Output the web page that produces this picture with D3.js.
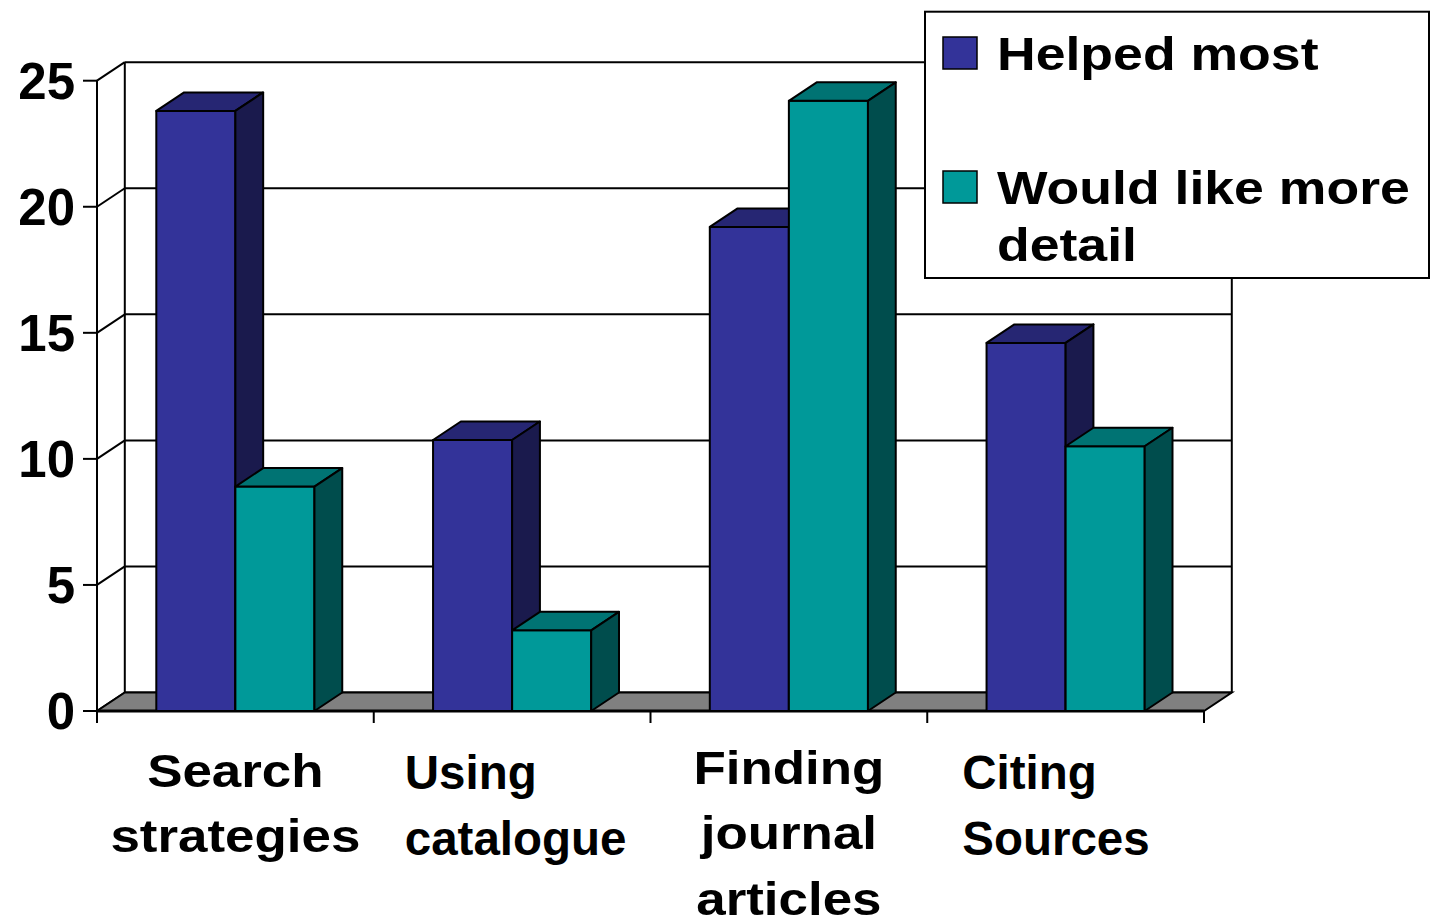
<!DOCTYPE html>
<html>
<head>
<meta charset="utf-8">
<script src="https://cdn.jsdelivr.net/npm/d3@7/dist/d3.min.js"></script>
<style>
  html, body { margin: 0; padding: 0; background: #fff; }
  svg { display: block; }
  text { font-family: "Liberation Sans", Arial, sans-serif; font-weight: bold; fill: #000; }
</style>
</head>
<body>
<svg id="chart" width="1441" height="922"></svg>
<script>
// Survey topics and the two response series
const categories = ["Search strategies", "Using catalogue", "Finding journal articles", "Citing Sources"];
const categoryLines = [["Search", "strategies"], ["Using", "catalogue"], ["Finding", "journal", "articles"], ["Citing", "Sources"]];
const seriesNames = ["Helped most", "Would like more detail"];
const legendLines = [["Helped most"], ["Would like more", "detail"]];
const helpedMost = [23.8, 10.75, 19.2, 14.6];
const wouldLikeMore = [8.9, 3.2, 24.2, 10.5];
const yTicks = [0, 5, 10, 15, 20, 25];

const seriesValues = [helpedMost, wouldLikeMore];
const faceColors = [
  { front: "#333399", top: "#262673", side: "#1a1a4d" },
  { front: "#009999", top: "#007373", side: "#004d4d" }
];

const svg = d3.select("#chart");

// Plot frame (front plane) and depth offset for the 3D look
const plotLeft = 97, plotRight = 1204, plotBottom = 711, plotTop = 80.7;
const depthX = 27.8, depthY = -18.5;

const x = d3.scaleBand().domain(categories).range([plotLeft, plotRight]).paddingInner(0).paddingOuter(0);
const xs = d3.scaleBand().domain(seriesNames).range([0, x.bandwidth()]).paddingInner(0).paddingOuter(0.75);
const y = d3.scaleLinear().domain([0, 25]).range([plotBottom, plotTop]);

const lineStyle = sel => sel.attr("stroke", "#000").attr("stroke-width", 2).attr("fill", "none");

// Back wall gridlines
const back = svg.append("g");
back.selectAll("line.grid").data(yTicks).join("line")
  .attr("x1", plotLeft + depthX).attr("x2", plotRight + depthX)
  .attr("y1", d => y(d) + depthY).attr("y2", d => y(d) + depthY)
  .call(lineStyle);
// Back wall vertical edges
back.append("line").attr("x1", plotLeft + depthX).attr("x2", plotLeft + depthX)
  .attr("y1", y(25) + depthY).attr("y2", y(0) + depthY).call(lineStyle);
back.append("line").attr("x1", plotRight + depthX).attr("x2", plotRight + depthX)
  .attr("y1", y(25) + depthY).attr("y2", y(0) + depthY).call(lineStyle);
// Side wall diagonals
back.selectAll("line.diag").data(yTicks).join("line")
  .attr("x1", plotLeft).attr("x2", plotLeft + depthX)
  .attr("y1", d => y(d)).attr("y2", d => y(d) + depthY)
  .call(lineStyle);

// Floor
svg.append("polygon")
  .attr("points", [[plotLeft, y(0)], [plotRight, y(0)], [plotRight + depthX, y(0) + depthY], [plotLeft + depthX, y(0) + depthY]].join(" "))
  .attr("fill", "#808080").attr("stroke", "#000").attr("stroke-width", 2);

// Value axis (front)
const axisG = svg.append("g");
axisG.append("line").attr("x1", plotLeft).attr("x2", plotLeft).attr("y1", y(25)).attr("y2", y(0) + 12).call(lineStyle);
axisG.selectAll("line.tick").data(yTicks).join("line")
  .attr("x1", plotLeft - 14).attr("x2", plotLeft)
  .attr("y1", d => y(d)).attr("y2", d => y(d)).call(lineStyle);
axisG.selectAll("text").data(yTicks).join("text")
  .attr("x", 75).attr("y", d => y(d) + 18.3)
  .attr("text-anchor", "end").attr("font-size", 51)
  .text(d => d3.format("d")(d));

// Category axis line and ticks
axisG.append("line").attr("x1", plotLeft).attr("x2", plotRight).attr("y1", y(0)).attr("y2", y(0))
  .attr("stroke", "#000").attr("stroke-width", 3);
const bandEdges = categories.map(c => x(c)).concat([plotRight]);
axisG.selectAll("line.xtick").data(bandEdges).join("line")
  .attr("x1", d => d).attr("x2", d => d)
  .attr("y1", y(0)).attr("y2", y(0) + 12).call(lineStyle);

// 3D columns
const bars = svg.append("g");
categories.forEach((c, ci) => {
  seriesNames.forEach((s, si) => {
    const v = seriesValues[si][ci];
    const x0 = x(c) + xs(s), w = xs.bandwidth();
    const yt = y(v), yb = y(0);
    const col = faceColors[si];
    const g = bars.append("g").attr("stroke", "#000").attr("stroke-width", 2).attr("stroke-linejoin", "round");
    g.append("rect").attr("x", x0).attr("y", yt).attr("width", w).attr("height", yb - yt).attr("fill", col.front);
    g.append("polygon").attr("fill", col.top)
      .attr("points", [[x0, yt], [x0 + depthX, yt + depthY], [x0 + w + depthX, yt + depthY], [x0 + w, yt]].join(" "));
    g.append("polygon").attr("fill", col.side)
      .attr("points", [[x0 + w, yt], [x0 + w + depthX, yt + depthY], [x0 + w + depthX, yb + depthY], [x0 + w, yb]].join(" "));
  });
});

// Category labels: centred and widened, or left-aligned from an inset
const labelStyle = [
  { stretch: 1.15, size: 46, align: "middle", base: 787 },
  { stretch: 1.0, size: 47.5, align: "start", inset: 31, base: 789 },
  { stretch: 1.15, size: 46, align: "middle", base: 784 },
  { stretch: 1.0, size: 47.5, align: "start", inset: 35, base: 789 }
];
const labelG = svg.append("g");
categories.forEach((c, ci) => {
  const st = labelStyle[ci];
  const lines = categoryLines[ci];
  const g = labelG.append("g");
  const t = g.append("text").attr("font-size", st.size)
    .attr("text-anchor", st.align === "middle" ? "middle" : "start");
  lines.forEach((ln, li) => {
    t.append("tspan").attr("x", 0).attr("y", st.base + li * 65.5).text(ln);
  });
  if (st.align === "middle") {
    g.attr("transform", `translate(${x(c) + x.bandwidth() / 2},0) scale(${st.stretch},1)`);
  } else {
    g.attr("transform", `translate(${x(c) + st.inset},0)`);
  }
});

// Legend
const lg = svg.append("g");
lg.append("rect").attr("x", 925).attr("y", 11.7).attr("width", 504).attr("height", 266.3)
  .attr("fill", "#fff").attr("stroke", "#000").attr("stroke-width", 2);
const legendTop = [37, 171];
seriesNames.forEach((s, si) => {
  lg.append("rect").attr("x", 943).attr("y", legendTop[si]).attr("width", 34).attr("height", 32)
    .attr("fill", faceColors[si].front).attr("stroke", "#000").attr("stroke-width", 1.5);
  legendLines[si].forEach((ln, li) => {
    lg.append("g").attr("transform", `translate(997,${legendTop[si] + 33 + li * 57}) scale(1.165,1)`)
      .append("text").attr("x", 0).attr("y", 0).attr("font-size", 46).text(ln);
  });
});
</script>
</body>
</html>
